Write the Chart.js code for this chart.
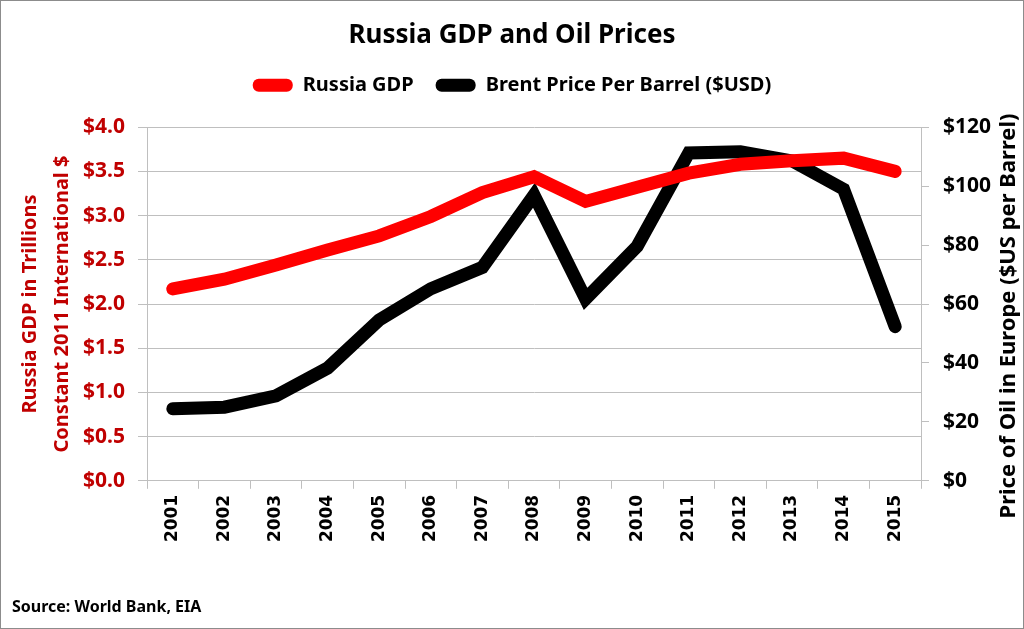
<!DOCTYPE html>
<html lang="en">
<head>
<meta charset="UTF-8">
<title>Russia GDP and Oil Prices</title>
<script src="https://cdn.jsdelivr.net/npm/chart.js"></script>
<style>
    html, body { margin: 0; padding: 0; background: #fff; }
    #wrap { width: 1024px; height: 629px; position: relative; }
</style>
</head>
<body>
<div id="wrap"><canvas id="chart" width="1024" height="629"></canvas></div>
<script>
    const years = ['2001', '2002', '2003', '2004', '2005', '2006', '2007', '2008',
                   '2009', '2010', '2011', '2012', '2013', '2014', '2015'];
    // GDP, trillions of constant 2011 international $
    const gdp = [2.17, 2.28, 2.44, 2.61, 2.77, 2.99, 3.26, 3.44,
                 3.16, 3.32, 3.48, 3.58, 3.62, 3.65, 3.50];
    // Brent, $ per barrel
    const brent = [24.46, 24.99, 28.85, 38.26, 54.57, 65.16, 72.44, 96.94,
                   61.74, 79.61, 111.26, 111.63, 108.56, 98.97, 52.32];
    const gdpTicks = { min: 0, max: 4, step: 0.5 };
    const oilTicks = { min: 0, max: 120, step: 20 };
    const oilTitle = 'Price of Oil in Europe ($US per Barrel)';

    const FONT = "'Noto Sans', sans-serif";
    const DARKRED = '#C00000';
    const GRID = '#BFBFBF';
    Chart.defaults.font.family = FONT;
    Chart.defaults.font.weight = 'bold';
    Chart.defaults.color = '#000';

    // white background + thin grey frame, and the right axis title read bottom-to-top
    const frame = {
        id: 'frame',
        beforeDraw(chart) {
            const c = chart.ctx;
            c.save();
            c.fillStyle = '#fff';
            c.fillRect(0, 0, chart.width, chart.height);
            c.strokeStyle = '#8c8c8c';
            c.lineWidth = 1;
            c.strokeRect(0.5, 0.5, chart.width - 1, chart.height - 1);
            c.restore();
        },
        afterDraw(chart) {
            const c = chart.ctx;
            const s = chart.scales.y1;
            c.save();
            c.translate(s.right - 3, (chart.chartArea.top + chart.chartArea.bottom) / 2 + 12);
            c.rotate(-Math.PI / 2);
            c.font = 'bold 22px ' + FONT;
            c.fillStyle = '#000';
            c.textAlign = 'center';
            c.textBaseline = 'middle';
            c.fillText(oilTitle, 0, 0);
            c.restore();
        }
    };

    // empty box between the legend and the plot
    const spacer = {
        id: 'spacer',
        beforeInit(chart) {
            Chart.layouts.addBox(chart, {
                position: 'top', weight: 500, fullSize: true, options: {},
                top: 0, left: 0, right: 0, bottom: 0, width: 0, height: 0,
                isHorizontal() { return true; },
                update(maxWidth) { this.width = maxWidth; this.height = 22; },
                draw() {}
            });
        }
    };

    new Chart(document.getElementById('chart'), {
        type: 'line',
        data: {
            labels: years,
            datasets: [
                {
                    label: 'Russia GDP',
                    data: gdp,
                    yAxisID: 'y',
                    borderColor: '#FF0000',
                    backgroundColor: '#FF0000',
                    borderWidth: 13,
                    borderCapStyle: 'round',
                    pointRadius: 0,
                    tension: 0
                },
                {
                    label: 'Brent Price Per Barrel ($USD)',
                    data: brent,
                    yAxisID: 'y1',
                    borderColor: '#000',
                    backgroundColor: '#000',
                    borderWidth: 13,
                    borderCapStyle: 'round',
                    pointRadius: 0,
                    tension: 0
                }
            ]
        },
        options: {
            responsive: false,
            animation: false,
            layout: { padding: { left: 12, right: 12, top: 0, bottom: 0 } },
            plugins: {
                title: {
                    display: true,
                    text: 'Russia GDP and Oil Prices',
                    font: { size: 26, weight: 'bold', lineHeight: 1.2 },
                    padding: { top: 20, bottom: 2 }
                },
                legend: {
                    labels: {
                        boxWidth: 40,
                        boxHeight: 13,
                        useBorderRadius: true,
                        borderRadius: 6,
                        padding: 22,
                        font: { size: 20, weight: 'bold' },
                        generateLabels(chart) {
                            return chart.data.datasets.map((ds, i) => ({
                                text: ds.label,
                                fillStyle: ds.borderColor,
                                strokeStyle: ds.borderColor,
                                lineWidth: 0,
                                datasetIndex: i,
                                borderRadius: 6
                            }));
                        }
                    }
                },
                subtitle: {
                    display: true,
                    text: 'Source: World Bank, EIA',
                    position: 'bottom',
                    align: 'start',
                    font: { size: 16, weight: 'bold' },
                    padding: { top: 10, bottom: 12 }
                },
                tooltip: { enabled: false }
            },
            scales: {
                x: {
                    offset: true,
                    grid: { offset: true, drawOnChartArea: false, color: GRID, tickLength: 8 },
                    border: { color: GRID },
                    ticks: {
                        minRotation: 90,
                        maxRotation: 90,
                        autoSkip: false,
                        padding: 6,
                        font: { family: "'DejaVu Sans'", size: 17, weight: 'bold' }
                    },
                    afterFit(scale) { scale.height = 107; }
                },
                y: {
                    position: 'left',
                    min: gdpTicks.min,
                    max: gdpTicks.max,
                    grid: { color: GRID, tickLength: 9 },
                    border: { color: GRID },
                    ticks: {
                        stepSize: gdpTicks.step,
                        color: DARKRED,
                        padding: 13,
                        font: { size: 21, weight: 'bold' },
                        callback: v => '$' + v.toFixed(1)
                    },
                    title: {
                        display: true,
                        text: ['Russia GDP in Trillions', 'Constant 2011 International $'],
                        color: DARKRED,
                        font: { size: 20, weight: 'bold', lineHeight: 1.6 },
                        padding: { top: 2, bottom: 0 }
                    },
                    afterFit(scale) { scale.width = 135; }
                },
                y1: {
                    position: 'right',
                    min: oilTicks.min,
                    max: oilTicks.max,
                    grid: { drawOnChartArea: false, color: GRID, tickLength: 8 },
                    border: { color: GRID },
                    ticks: {
                        stepSize: oilTicks.step,
                        padding: 14,
                        font: { size: 21, weight: 'bold' },
                        callback: v => '$' + v
                    },
                    afterFit(scale) { scale.width = 91; }
                }
            }
        },
        plugins: [frame, spacer]
    });
</script>
</body>
</html>
